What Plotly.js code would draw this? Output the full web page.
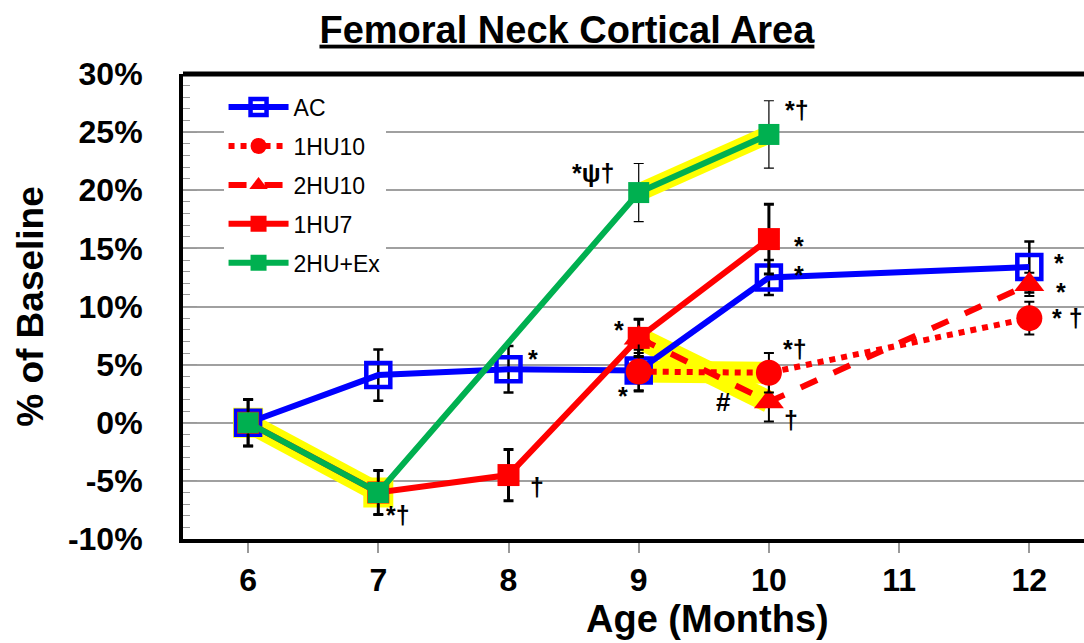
<!DOCTYPE html>
<html><head><meta charset="utf-8">
<script src="https://cdn.plot.ly/plotly-3.0.1.min.js"></script>
<style>body{margin:0;background:#fff}#chart{width:1084px;height:643px}</style>
</head><body><div id="chart"></div>
<script>
// Data
const acX = [6, 7, 8, 9, 10, 12];
const acY = [0, 4.1, 4.6, 4.5, 12.5, 13.4];
const acErr = [2.0, 2.2, 2.0, 1.8, 1.5, 2.2];

const hu110X = [9, 10, 12];
const hu110Y = [4.4, 4.3, 9.0];
const hu110Err = [1.6, 1.7, 1.4];

const hu210X = [9, 10, 12];
const hu210Y = [7.3, 1.8, 11.9];
const hu210Err = [1.6, 1.7, 1.0];

const hu17X = [6, 7, 8, 9, 10];
const hu17Y = [0, -6.0, -4.5, 7.3, 15.8];
const hu17Err = [2.0, 1.9, 2.2, 1.6, 3.0];

const exX = [6, 7, 9, 10];
const exY = [0, -6.0, 19.8, 24.8];
const exErr = [2.0, 1.9, 2.5, 2.9];

const xTicks = [6, 7, 8, 9, 10, 11, 12];
const yTicks = [-10, -5, 0, 5, 10, 15, 20, 25, 30];
const yTickText = yTicks.map(v => v + '%');

// Significance labels
const sigX = [8, 9, 9, 10, 10, 10, 10, 9, 10, 12, 12, 12, 7, 8];
const sigY = [4.6, 7.3, 4.4, 4.3, 1.8, 15.8, 12.5, 19.8, 24.8, 13.4, 11.9, 9.0, -6.0, -4.5];
const sigText = ['*', '*', '*', '*†', '†', '*', '*', '*ψ†', '*†', '*', '*', '* †', '*†', '†'];
const sigDx = [24, -20, -16, 26, 22, 30, 30, -46, 28, 30, 32, 38, 20, 28];
const sigDy = [10, 8, -24, 24, -18, -7, 2, 20, 24, 4, -8, 0, -22, -12];
const hashX = [9.65];
const hashY = [1.8];

const blue = '#0000ff', red = '#ff0000', green = '#00b050', yellow = '#ffff00';
const FONT = 'Arial, Liberation Sans, sans-serif';
const eb = (arr, th) => ({type:'data', array:arr, visible:true, color:'#000', thickness:th, width:5});

const traces = [
  // yellow highlights
  {x:[exX[0],exX[1]], y:[exY[0],exY[1]], mode:'lines+markers', line:{color:yellow,width:20},
   marker:{symbol:'square',size:30,color:yellow}, showlegend:false, hoverinfo:'skip'},
  {x:[exX[2],exX[3]], y:[exY[2],exY[3]], mode:'lines', line:{color:yellow,width:18}, showlegend:false, hoverinfo:'skip'},
  {x:[hu210X[0],hu210X[1]], y:[hu210Y[0],hu210Y[1]], mode:'lines', line:{color:yellow,width:22}, showlegend:false, hoverinfo:'skip'},
  {x:[hu110X[0],hu110X[1]], y:[hu110Y[0],hu110Y[1]], mode:'lines', line:{color:yellow,width:22}, showlegend:false, hoverinfo:'skip'},
  // series
  {name:'AC', x:acX, y:acY, mode:'lines+markers', legendrank:1, legendgroup:'a',
   line:{color:blue,width:6}, marker:{symbol:'square-open',size:24,color:blue,line:{width:4.5,color:blue}},
   error_y:eb(acErr,2.5)},
  {name:'1HU7', x:hu17X, y:hu17Y, mode:'lines+markers', legendrank:4, legendgroup:'d',
   line:{color:red,width:6}, marker:{symbol:'square',size:22,color:red},
   error_y:eb(hu17Err,3)},
  {name:'2HU10', x:hu210X, y:hu210Y, mode:'lines+markers', legendrank:3, legendgroup:'c',
   line:{color:red,width:6,dash:'dash'}, marker:{symbol:'triangle-up',size:26,color:red},
   error_y:eb(hu210Err,2)},
  {name:'1HU10', x:hu110X, y:hu110Y, mode:'lines+markers', legendrank:2, legendgroup:'b',
   line:{color:red,width:6,dash:'dot'}, marker:{symbol:'circle',size:26,color:red},
   error_y:eb(hu110Err,2)},
  {name:'2HU+Ex', x:exX, y:exY, mode:'lines+markers', legendrank:5, legendgroup:'e',
   line:{color:green,width:6}, marker:{symbol:'square',size:21,color:green},
   error_y:eb(exErr,1.2)}
];

const annotations = sigX.map((x,i)=>({x:x, y:sigY[i], text:sigText[i], showarrow:false,
  xshift:sigDx[i], yshift:sigDy[i], font:{family:FONT, size:25, color:'#000', weight:'bold'}}));
annotations.push({x:hashX[0], y:hashY[0], text:'#', showarrow:false,
  font:{family:FONT, size:26, color:'#000', weight:'bold'}});
annotations.push({xref:'paper', yref:'paper', x:0.5816, y:-0.172, xanchor:'center', yanchor:'middle',
  text:'<b>Age (Months)</b>', showarrow:false, font:{family:FONT, size:38, color:'#000'}});

const layout = {
  width:1084, height:643,
  margin:{l:183, r:0, t:74, b:104},
  paper_bgcolor:'#fff', plot_bgcolor:'#fff',
  font:{family:FONT, color:'#000'},
  title:{text:'<b><u>Femoral Neck Cortical Area</u></b>', x:0.523, xanchor:'center', y:0.975, yanchor:'top',
    font:{size:38, family:FONT, color:'#000'}},
  xaxis:{range:[5.5, 12.42], tickvals:xTicks, ticks:'outside', ticklen:10, tickcolor:'#999', tickwidth:2,
    showline:true, linecolor:'#000', linewidth:4, mirror:false, showgrid:false, zeroline:false,
    ticklabelstandoff:0,
    tickfont:{size:32, family:FONT, weight:'bold'}},
  yaxis:{range:[-10, 30], tickvals:yTicks, ticktext:yTickText, ticks:'inside', ticklen:14, tickcolor:'#999',
    showline:true, linecolor:'#000', linewidth:4, mirror:false,
    showgrid:true, gridcolor:'#a0a0a0', gridwidth:1.5, zeroline:false,
    minor:{dtick:1, ticks:'inside', ticklen:7, tickcolor:'#999', showgrid:false},
    ticklabelstandoff:30,
    tickfont:{size:32, family:FONT, weight:'bold'},
    title:{text:'<b>% of Baseline</b>', font:{size:37, family:FONT}, standoff:14}},
  shapes:[{type:'line', xref:'paper', yref:'paper', x0:0, x1:1, y0:1, y1:1, line:{color:'#000', width:5}}],
  legend:{x:0.045, y:0.975, xanchor:'left', yanchor:'top', bgcolor:'#fff', borderwidth:0,
    font:{size:23, family:FONT, color:'#000'}, itemwidth:60, tracegroupgap:6},
  annotations:annotations,
  showlegend:true
};

Plotly.newPlot('chart', traces, layout, {displayModeBar:false});
</script></body></html>
